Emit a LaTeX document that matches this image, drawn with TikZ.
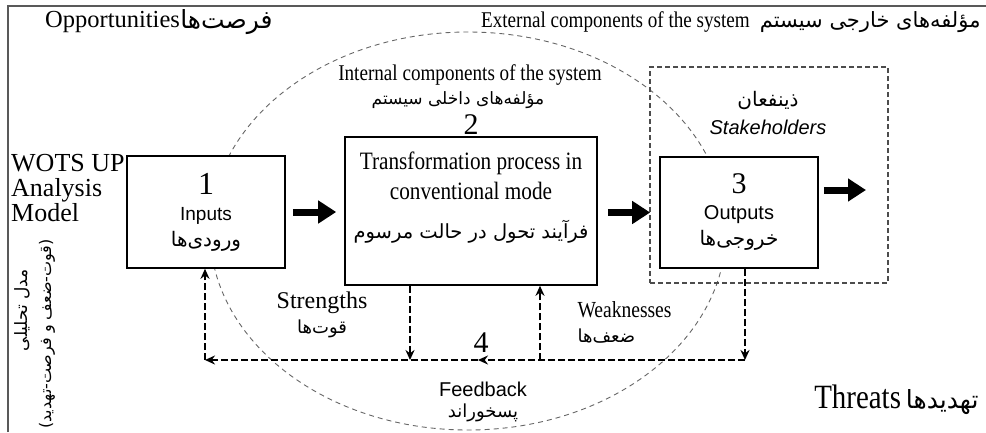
\documentclass[tikz,border=0pt]{standalone}
\usepackage{fontspec}
\setmainfont{Liberation Serif}
\setsansfont{Liberation Sans}
\newfontfamily\narrowserif{Liberation Serif}[FakeStretch=0.85]
\newfontfamily\farsi[Script=Arabic]{DejaVu Sans}
\TeXXeTstate=1
\usetikzlibrary{arrows.meta,positioning,shapes.geometric}
\newcommand{\fa}[1]{{\farsi\beginR #1\endR}}

\tikzset{
  box/.style={draw, rectangle, line width=1.6pt, fill=white, inner sep=0pt},
  fb/.style={line width=2.4pt, dash pattern=on 7pt off 3pt, -{Stealth[length=10pt,width=9pt]}},
  bigarrow/.style={line width=7pt, -{Triangle[length=18pt,width=22pt]}},
}

\begin{document}
\begin{tikzpicture}[x=1pt, y=-1pt, node distance=4pt]
\useasboundingbox (0,0) rectangle (986,432);

    % Frame and system boundary
    \draw[gray!70!black, line width=1.2pt] (8,432) -- (8,6) -- (986,6);
    \node (system) [ellipse, draw, gray!80!black, line width=0.9pt, dash pattern=on 5pt off 4pt, minimum width=516pt, minimum height=398pt] at (468,231) {};
    \node (stakebox) [draw, gray!60!black, line width=1.2pt, dash pattern=on 5pt off 3pt, minimum width=238pt, minimum height=216pt] at (769,175) {};

    % Labels
    \node (opport) [anchor=west, inner xsep=0pt, font=\fontsize{24.5}{30}\selectfont] at (45,22) {Opportunities};
    \node (opportfa) [right=0pt of opport, inner xsep=0pt, font=\fontsize{25}{28}\selectfont] {\fa{فرصت‌ها}};
    \node (external) [anchor=east] at (984,22) {{\narrowserif\fontsize{22.5}{24}\selectfont External components of the system}\quad\fa{\fontsize{21}{22}\selectfont مؤلفه‌های خارجی سیستم}};
    \node (internal) [align=center, font=\fontsize{17}{24}\selectfont] at (470,87) {{\narrowserif\fontsize{22.5}{24}\selectfont Internal components of the system}\\\fa{مؤلفه‌های داخلی سیستم}\hspace*{24pt}};
    \node (wots) [anchor=north west, align=left, inner sep=0pt, font=\fontsize{26}{25}\selectfont] at (11,154) {WOTS UP\\Analysis\\Model};
    \node (modelfa) [rotate=90, font=\farsi\fontsize{17}{18}\selectfont] at (22,310) {\beginR مدل تحلیلی\endR};
    \node (swotfa) [rotate=90, font=\farsi\fontsize{16}{18}\selectfont] at (47,334) {\beginR (قوت-ضعف و فرصت-تهدید)\endR};

    % Boxes
    \node (inputs) [box, minimum width=158pt, minimum height=112pt, align=center, font=\fontsize{20}{26}\selectfont] at (206,212) {{\fontsize{32}{30}\selectfont 1}\\{\sffamily\fontsize{19}{20}\selectfont Inputs}\\\fa{ورودی‌ها}};
    \node (trans) [box, minimum width=252pt, minimum height=148pt] at (471,211) {};
    \node (transtext) [below=12pt of trans.north, align=center, font=\narrowserif\fontsize{25}{30}\selectfont] {Transformation process in\\conventional mode\\[9pt]\fa{\fontsize{19.5}{24}\selectfont فرآیند تحول در حالت مرسوم}};
    \node (num2) [above=-2pt of trans, font=\fontsize{30}{30}\selectfont] {2};
    \node (outputs) [box, minimum width=158pt, minimum height=111pt, align=center, font=\fontsize{20}{26}\selectfont] at (739,212.5) {{\fontsize{30}{30}\selectfont 3}\\{\sffamily\fontsize{20}{20}\selectfont Outputs}\\\fa{خروجی‌ها}};
    \node (stake) [align=center, font=\fontsize{20}{28}\selectfont] at (768,113) {\fa{ذینفعان}\\{\sffamily\itshape Stakeholders}};

    % Feedback labels
    \node (strengths) [align=center, font=\fontsize{18}{25}\selectfont] at (322,315) {{\fontsize{24}{24}\selectfont Strengths}\\\fa{قوت‌ها}};
    \node (weak) [anchor=west, align=left, font=\fontsize{18}{25}\selectfont] at (574,322) {{\narrowserif\fontsize{23}{24}\selectfont Weaknesses}\\\fa{ضعف‌ها}};
    \node (num4) [font=\fontsize{30}{30}\selectfont] at (481,343) {4};
    \node (feedback) [align=center, font=\fontsize{18}{21}\selectfont] at (483,402) {{\sffamily\fontsize{20}{20}\selectfont Feedback}\\\fa{پسخوراند}};
    \node (threats) [anchor=east] at (982,400) {{\narrowserif\fontsize{34}{36}\selectfont Threats}\enspace\fa{\fontsize{25}{26}\selectfont تهدیدها}};

    % Coordinates of the feedback loop
    \coordinate (fbleft) at (205,360);
    \coordinate (fbmid) at (478,360);
    \coordinate (fbright) at (745,360);
    \coordinate (strin) at (410,360);
    \coordinate (weakout) at (540,360);
    \coordinate (outend) at (866,190);

    % Arrows
    \draw[bigarrow, shorten <=7pt, shorten >=8pt] (inputs) -- (trans.west |- inputs);
    \draw[bigarrow, shorten <=10pt, shorten >=9pt] (trans.east |- outputs.west) -- (outputs.west);
    \draw[bigarrow, shorten <=5pt] (outputs.east |- outend) -- (outend);

    \draw[fb] (outputs.south -| fbright) -- (fbright);
    \draw[fb] (fbright) -- (fbmid);
    \draw[fb] (fbmid) -- (fbleft);
    \draw[fb] (fbleft) -- (inputs.south -| fbleft);
    \draw[fb] (trans.south -| strin) -- (strin);
    \draw[fb] (weakout) -- (trans.south -| weakout);

\end{tikzpicture}
\end{document}
